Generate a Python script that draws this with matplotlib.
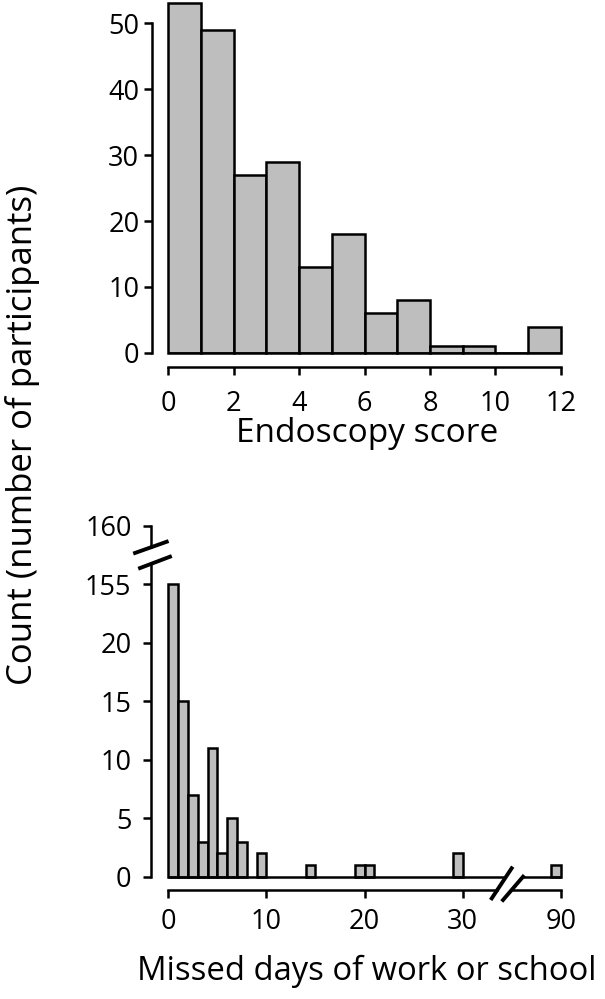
import matplotlib
matplotlib.use("Agg")
import matplotlib.pyplot as plt
from matplotlib.transforms import ScaledTranslation, blended_transform_factory

plt.rcParams['font.family'] = ['Open Sans', 'DejaVu Sans']

# ---- data ----
endo_edges = [0, 1, 2, 3, 4, 5, 6, 7, 8, 9, 10, 11]
endo_counts = [53, 49, 27, 29, 13, 18, 6, 8, 1, 1, 0, 4]
endo_ticks = [0, 2, 4, 6, 8, 10, 12]

days = [0, 1, 2, 3, 4, 5, 6, 7, 9, 14, 19, 20, 29, 89]
day_counts = [155, 15, 7, 3, 11, 2, 5, 3, 2, 1, 1, 1, 2, 1]
day_xticks = [0, 10, 20, 30, 90]
day_yticks = [0, 5, 10, 15, 20, 155, 160]

FILL = '#bebebe'
LW = 1.8
W, H, DPI = 6.05, 9.99, 100
TICK_FS = 19.5
LAB_FS = 24

def xmap(d):  # broken x scale: 90 -> 40
    return d if d <= 30 else d - 50

def ymap(v):  # broken y scale: 155 -> 25
    return v if v <= 20 else v - 130

fig = plt.figure(figsize=(W, H), dpi=DPI)

def px2fig(x0, x1, ytop, ybot):
    return [x0 / 605, 1 - ybot / 999, (x1 - x0) / 605, (ybot - ytop) / 999]

# ---------------- top panel ----------------
ax1 = fig.add_axes(px2fig(168.3, 560.7, 0, 353))
ax1.bar(endo_edges, endo_counts, width=1, align='edge', color=FILL,
        edgecolor='black', linewidth=LW, clip_on=False)
ax1.plot([0, 12], [0, 0], color='black', lw=LW, solid_capstyle='butt')
ax1.set_xlim(0, 12)
ax1.set_ylim(0, 353 / 6.6)
for s in ['top', 'right']:
    ax1.spines[s].set_visible(False)
ax1.spines['left'].set_position(('outward', 11.9))
ax1.spines['bottom'].set_position(('outward', 9.9))
ax1.spines['left'].set_bounds(0, 50)
ax1.spines['bottom'].set_bounds(0, 12)
for s in ['left', 'bottom']:
    ax1.spines[s].set_linewidth(LW)
ax1.set_xticks(endo_ticks)
ax1.set_yticks([0, 10, 20, 30, 40, 50])
ax1.tick_params(axis='both', direction='out', length=6, width=LW, labelsize=TICK_FS)
ax1.tick_params(axis='x', pad=11)
ax1.tick_params(axis='y', pad=3)
ax1.patch.set_visible(False)

# ---------------- bottom panel ----------------
ax2 = fig.add_axes(px2fig(168.3, 560.7, 525.7, 876.7))
xs = [xmap(d) for d in days]
ys = [ymap(c) for c in day_counts]
ax2.bar(xs, ys, width=1, align='edge', color=FILL, edgecolor='black',
        linewidth=LW, clip_on=False)
ax2.set_xlim(0, 40)
ax2.set_ylim(0, 30)
for s in ['top', 'right']:
    ax2.spines[s].set_visible(False)
ax2.spines['left'].set_position(('outward', 12.5))
ax2.spines['bottom'].set_position(('outward', 9.6))
ax2.spines['left'].set_bounds(0, 26.73)
ax2.spines['bottom'].set_bounds(0, 33.5)
for s in ['left', 'bottom']:
    ax2.spines[s].set_linewidth(LW)
ax2.set_xticks([xmap(v) for v in day_xticks])
ax2.set_xticklabels([str(v) for v in day_xticks])
ax2.set_yticks([ymap(v) for v in day_yticks])
ax2.set_yticklabels([str(v) for v in day_yticks])
ax2.tick_params(axis='both', direction='out', length=6, width=LW, labelsize=TICK_FS)
ax2.tick_params(axis='x', pad=7)
ax2.tick_params(axis='y', pad=8)
ax2.patch.set_visible(False)

# baseline with gap
ax2.plot([0, 34.42], [0, 0], color='black', lw=LW, clip_on=False, solid_capstyle='butt')
ax2.plot([36.16, 40], [0, 0], color='black', lw=LW, clip_on=False, solid_capstyle='butt')

# extra axis segments (upper y, right x)
ytr = blended_transform_factory(ax2.transAxes, ax2.transData) + \
    ScaledTranslation(-12.5 / 72, 0, fig.dpi_scale_trans)
ax2.plot([0, 0], [28.15, 30], color='black', lw=LW, transform=ytr,
         clip_on=False, solid_capstyle='projecting')
xtr = blended_transform_factory(ax2.transData, ax2.transAxes) + \
    ScaledTranslation(0, -9.6 / 72, fig.dpi_scale_trans)
ax2.plot([35.03, 40], [0, 0], color='black', lw=LW, transform=xtr,
         clip_on=False, solid_capstyle='projecting')

# break marks
BLW = 2.8
ax2.plot([-3.39, -0.16], [27.67, 28.63], color='black', lw=BLW, clip_on=False)
ax2.plot([-2.88, 0.17], [26.38, 27.35], color='black', lw=BLW, clip_on=False)
ax2.plot([32.97, 35.0], [-1.85, 0.72], color='black', lw=BLW, clip_on=False)
ax2.plot([34.12, 36.16], [-1.99, 0.0], color='black', lw=BLW, clip_on=False)

# ---- labels ----
fig.text(367.5 / 605, 1 - 442 / 999, 'Endoscopy score', ha='center',
         va='baseline', fontsize=LAB_FS)
fig.text(366.5 / 605, 1 - 980 / 999, 'Missed days of work or school',
         ha='center', va='baseline', fontsize=23.6)
fig.text(23 / 605, 1 - 435 / 999, 'Count (number of participants)',
         ha='center', va='center', rotation=90, fontsize=25)

fig.savefig('out.png', dpi=DPI)
